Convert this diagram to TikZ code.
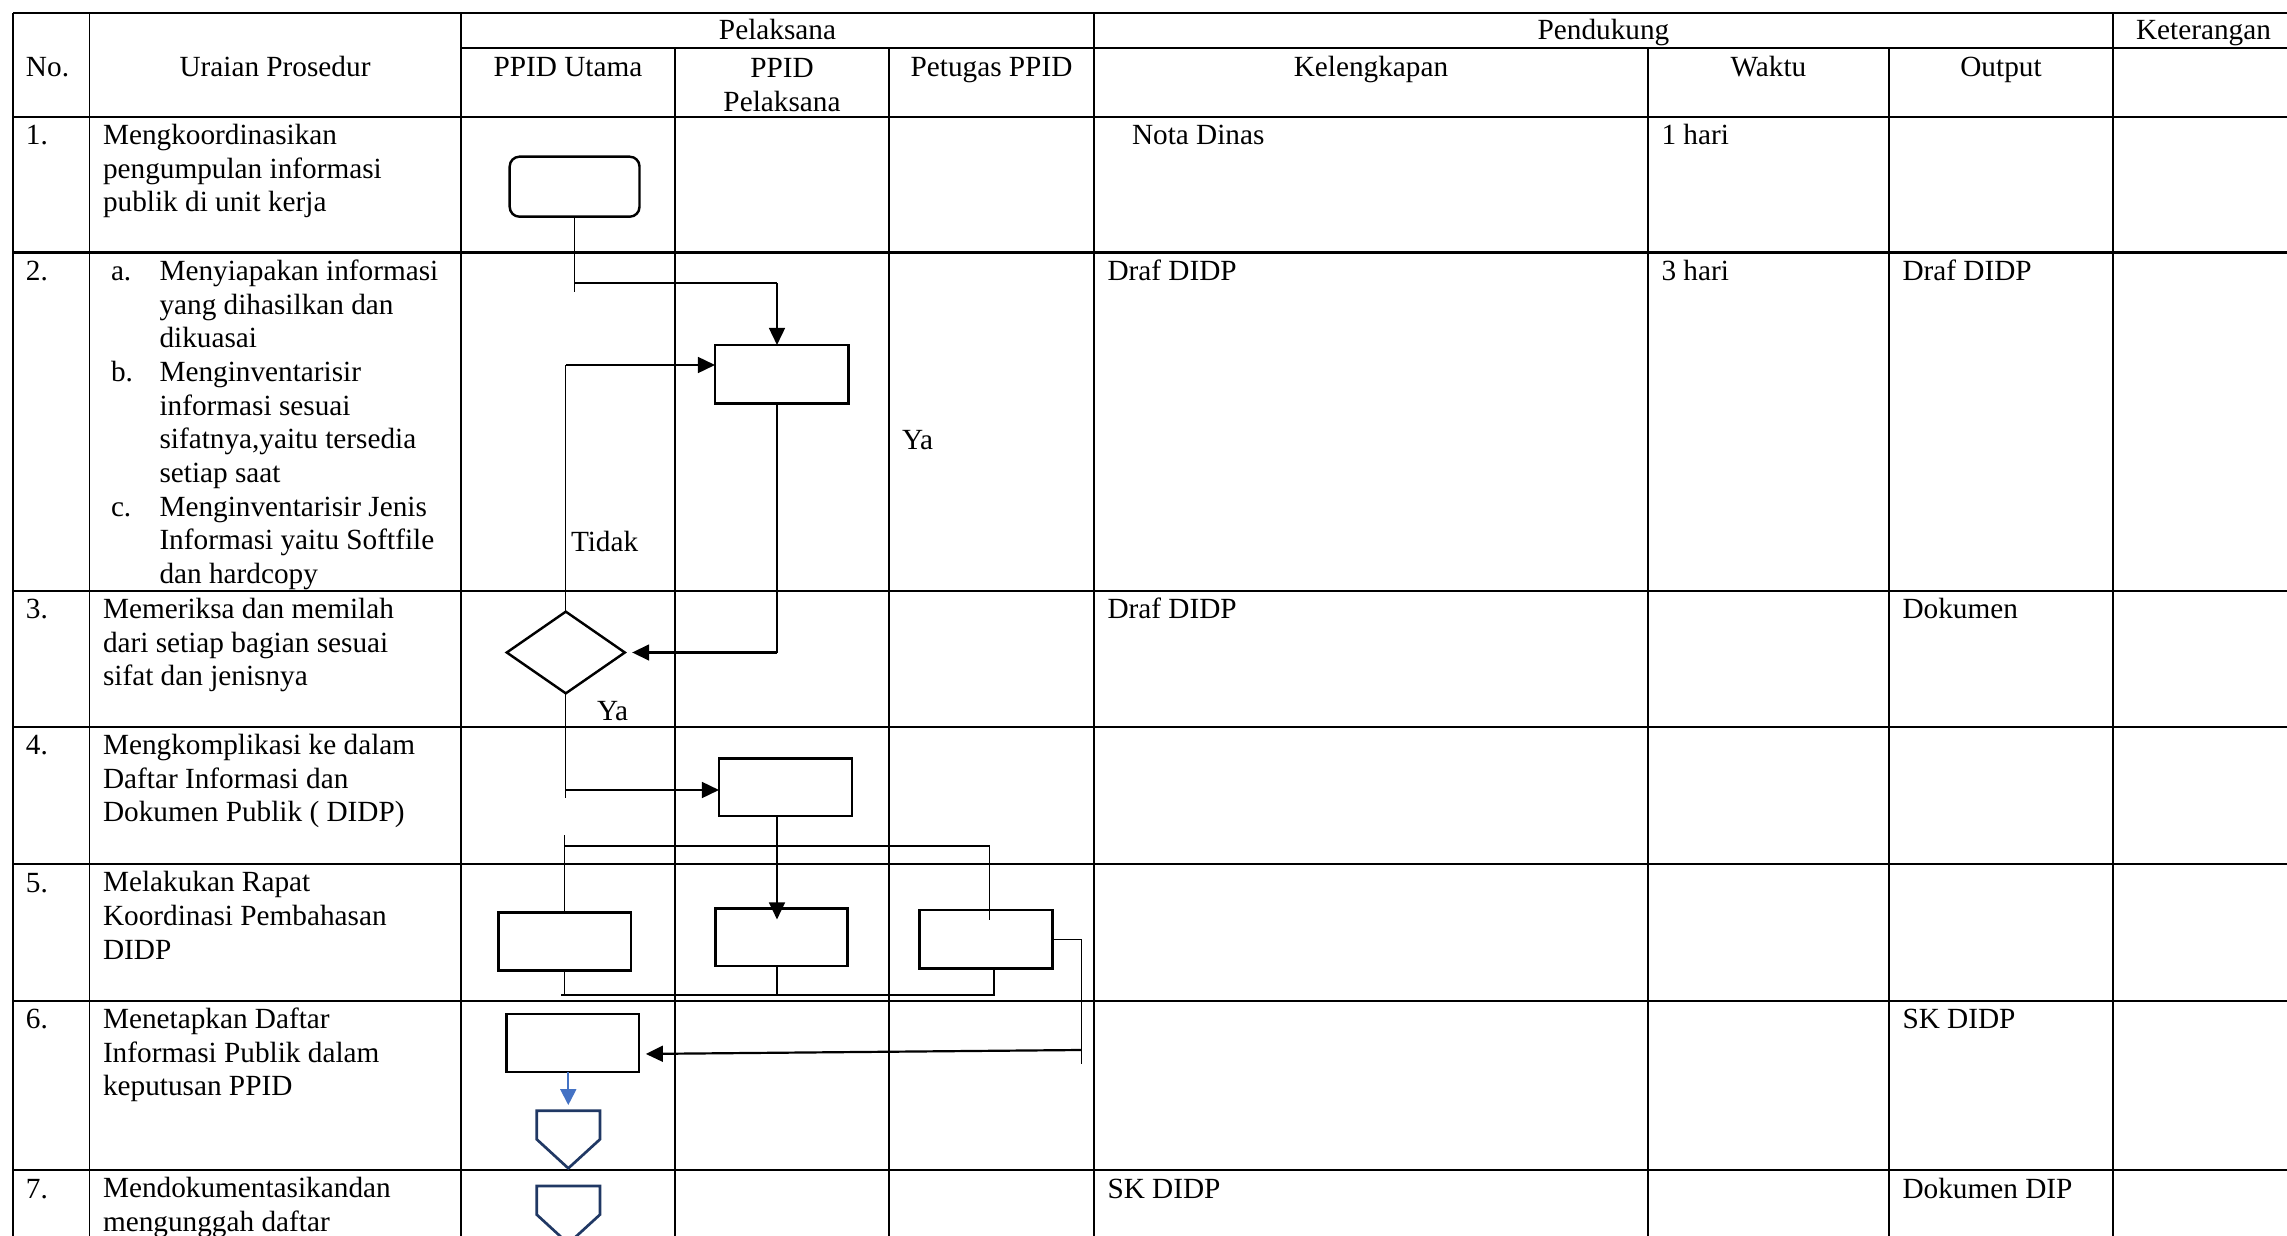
\documentclass[tikz,border=0pt]{standalone}
\usepackage{fontspec}
\setmainfont{Liberation Serif}
\usetikzlibrary{arrows.meta,shapes.geometric,fit}
\newcommand{\cf}{\fontsize{12pt}{13.8pt}\selectfont}
\definecolor{navyc}{RGB}{32,56,100}
\definecolor{bluec}{RGB}{68,114,196}
\begin{document}
\begin{tikzpicture}[x=0.41pt,y=-0.41pt,
 hl/.style={line width=0.85pt},
 vl/.style={line width=0.75pt},
 box/.style={draw, rectangle, line width=1pt, inner sep=0pt, outer sep=0pt},
 thinl/.style={line width=0.45pt},
 arr/.style={line width=0.9pt, -{Triangle[length=7pt,width=6.5pt]}},
 barr/.style={draw=bluec, line width=0.8pt, -{Triangle[length=6.5pt,width=6.5pt,fill=bluec]}},
 offp/.style={draw=navyc, line width=1.1pt, line join=miter},
 tx/.style={anchor=north west, inner sep=0pt, outer sep=0pt, align=left, font=\cf},
 bw/.style={anchor=base west, inner sep=0pt, outer sep=0pt, font=\cf},
 bc/.style={anchor=base, inner sep=0pt, outer sep=0pt, font=\cf}]
\useasboundingbox (0,0) rectangle (2287,1236);

% ---------------- table grid ----------------
\draw[hl] (13,13.3) -- (2300,13.3);
\draw[hl] (461,47.7) -- (2300,47.7);
\foreach \y in {116.7,252.5,590.7,726.7,864,1000.7,1170}
  \draw[hl] (13,\y) -- (2300,\y);
\foreach \x in {13,89.5,461,1094,2113}
  \draw[vl] (\x,13.3) -- (\x,1240);
\foreach \x in {675,889,1648,1889}
  \draw[vl] (\x,47.7) -- (\x,1240);

% ---------------- header ----------------
\node[bw] (hNo) at (26,77) {No.};
\node[bc] (hUr) at (275,77) {Uraian Prosedur};
\node[bc] (hPel) at (777.5,39.5) {Pelaksana};
\node[bc] (hPen) at (1603.5,39.5) {Pendukung};
\node[bw] (hKet) at (2136,39.5) {Keterangan};
\node[bc] (hUt) at (568,77) {PPID Utama};
\node[anchor=north, inner sep=0pt, align=center, font=\cf] (hPP) at (782,53.4) {\strut PPID\\Pelaksana};
\node[bc] (hPet) at (991.5,77) {Petugas PPID};
\node[bc] (hKel) at (1371,77) {Kelengkapan};
\node[bc] (hWak) at (1768.5,77) {Waktu};
\node[bc] (hOut) at (2001,77) {Output};

% ---------------- row texts ----------------
% row 1
\node[bw] (n1) at (26,144.7) {1.};
\node[tx] (u1) at (103,121.1) {\strut Mengkoordinasikan\\pengumpulan informasi\\publik di unit kerja};
\node[bw] (k1) at (1132,144.7) {Nota Dinas};
\node[bw] (w1) at (1661.5,144.7) {1 hari};
% row 2
\node[bw] (n2) at (26,280.5) {2.};
\node[bw] (la) at (111,280.5) {a.};
\node[bw] (lb) at (111,381.5) {b.};
\node[bw] (lc) at (111,516.1) {c.};
\node[tx] (u2) at (159.5,256.9) {\strut Menyiapakan informasi\\yang dihasilkan dan\\dikuasai\\Menginventarisir\\informasi sesuai\\sifatnya,yaitu tersedia\\setiap saat\\Menginventarisir Jenis\\Informasi yaitu Softfile\\dan hardcopy};
\node[bw] (k2) at (1107.5,280.5) {Draf DIDP};
\node[bw] (w2) at (1661.5,280.5) {3 hari};
\node[bw] (o2) at (1902.5,280.5) {Draf DIDP};
% row 3
\node[bw] (n3) at (26,618.7) {3.};
\node[tx] (u3) at (103,595.1) {\strut Memeriksa dan memilah\\dari setiap bagian sesuai\\sifat dan jenisnya};
\node[bw] (k3) at (1107.5,618.7) {Draf DIDP};
\node[bw] (o3) at (1902.5,618.7) {Dokumen};
% row 4
\node[bw] (n4) at (26,754.7) {4.};
\node[tx] (u4) at (103,731.1) {\strut Mengkomplikasi ke dalam\\Daftar Informasi dan\\Dokumen Publik ( DIDP)};
% row 5
\node[bw] (n5) at (26,892) {5.};
\node[tx] (u5) at (103,868.4) {\strut Melakukan Rapat\\Koordinasi Pembahasan\\DIDP};
% row 6
\node[bw] (n6) at (26,1028.7) {6.};
\node[tx] (u6) at (103,1005.1) {\strut Menetapkan Daftar\\Informasi Publik dalam\\keputusan PPID};
\node[bw] (o6) at (1902.5,1028.7) {SK DIDP};
% row 7
\node[bw] (n7) at (26,1198) {7.};
\node[tx] (u7) at (103,1174.4) {\strut Mendokumentasikandan\\mengunggah daftar};
\node[bw] (k7) at (1107.5,1198) {SK DIDP};
\node[bw] (o7) at (1902.5,1198) {Dokumen DIP};

% ---------------- flow shapes ----------------
\node[box, rounded corners=4pt, fit={(509.7,156.7) (639.5,216.7)}] (b1) {};
\node[box, fit={(715,345) (848.6,403.3)}] (b2) {};
\node[draw, diamond, line width=1pt, inner sep=0pt, outer sep=0pt,
      minimum width=48.4pt, minimum height=33.5pt] (dia) at (565.8,652.5) {};
\node[box, fit={(719,758.3) (852.2,816)}] (b4) {};
\node[box, fit={(498.6,912.5) (631,970.6)}] (b5a) {};
\node[box, fit={(715.4,908.5) (847.4,966)}] (b5b) {};
\node[box, fit={(919.6,910.2) (1052.3,968.3)}] (b5c) {};
\node[box, fit={(506.6,1013.8) (639,1072)}] (b6) {};

% off-page connectors
\draw[offp] (536.7,1110.7) -- (600,1110.7) -- (600,1139.3) -- (568.3,1168.3) -- (536.7,1139.3) -- cycle;
\coordinate (p1) at (568.3,1110.7);
\draw[offp] (536.7,1186) -- (600,1186) -- (600,1214.6) -- (568.3,1243.6) -- (536.7,1214.6) -- cycle;

% labels
\node[bw] (tidak) at (571,551) {Tidak};
\node[bw] (ya1) at (902,449) {Ya};
\node[bw] (ya2) at (597,720) {Ya};

% ---------------- connectors ----------------
% 1 -> 2
\draw[thinl] (b1.south) -- (b1.south |- 0,292);
\draw[thinl] (b1.south |- 0,283) -- (777,283);
\draw[arr] (777,283) -- (b2.north -| 777,0);
% 2 -> diamond
\draw[thinl] (b2.south -| 777,0) -- (777,652.5);
\draw[arr, shorten >=3pt] (777,652.5) -- (dia.east);
% Tidak loop
\draw[thinl] (dia.north) -- (dia.north |- 0,365);
\draw[arr] (dia.north |- 0,365) -- (b2.west |- 0,365);
% Ya -> box 4
\draw[thinl] (dia.south) -- (dia.south |- 0,798);
\draw[arr] (dia.south |- 0,790) -- (b4.west |- 0,790);
% box 4 -> row 5
\draw[arr, shorten >=-4.5pt] (b4.south -| 777,0) -- (b5b.north -| 777,0);
\draw[thinl] (b5a.north |- 0,835) -- (b5a.north);
\draw[thinl] (b5a.north |- 0,846) -- (989.7,846);
\draw[thinl] (989.7,846) -- (b5c.north -| 989.7,0) -- ++(0,10);
% merge below row 5
\draw[thinl] (b5a.south) -- (b5a.south |- 0,995);
\draw[thinl] (b5b.south -| 777,0) -- (777,995);
\draw[thinl] (b5c.south -| 994,0) -- (994,995);
\draw[thinl] (561,995) -- (995,995);
% box 5c -> box 6
\draw[thinl] (b5c.east) -- (b5c.east -| 1081.3,0) -- (1081.3,1064);
\draw[arr, shorten >=2.8pt] (1081.3,1050) -- (b6.east |- 0,1054);
% box 6 -> off-page connector
\draw[barr, shorten >=2.3pt] (b6.south -| p1) -- (p1);
\end{tikzpicture}
\end{document}
